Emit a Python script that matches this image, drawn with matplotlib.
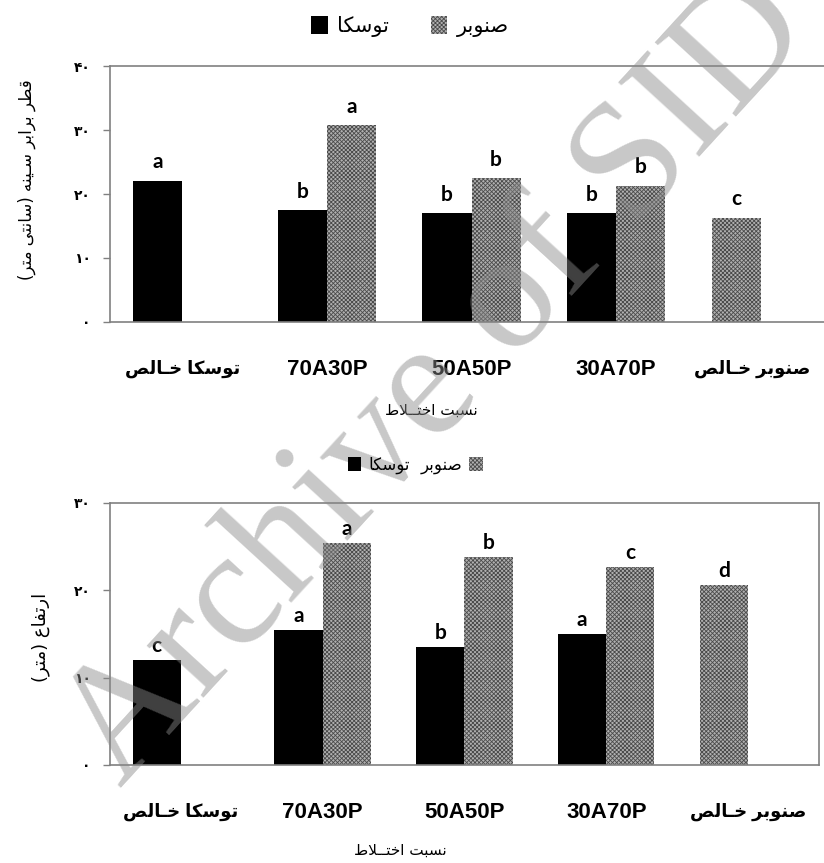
import numpy as np
import matplotlib.pyplot as plt
from matplotlib.patches import Patch
from matplotlib.transforms import ScaledTranslation

# presentation forms for each Persian letter: isolated, final, initial, medial
FORMS = {
    'ا': '\uFE8D\uFE8E',
    'ر': '\uFEAD\uFEAE',
    'و': '\uFEED\uFEEE',
    'ب': '\uFE8F\uFE90\uFE91\uFE92',
    'ت': '\uFE95\uFE96\uFE97\uFE98',
    'خ': '\uFEA5\uFEA6\uFEA7\uFEA8',
    'س': '\uFEB1\uFEB2\uFEB3\uFEB4',
    'ص': '\uFEB9\uFEBA\uFEBB\uFEBC',
    'ط': '\uFEC1\uFEC2\uFEC3\uFEC4',
    'ع': '\uFEC9\uFECA\uFECB\uFECC',
    'ف': '\uFED1\uFED2\uFED3\uFED4',
    'ق': '\uFED5\uFED6\uFED7\uFED8',
    'ل': '\uFEDD\uFEDE\uFEDF\uFEE0',
    'م': '\uFEE1\uFEE2\uFEE3\uFEE4',
    'ن': '\uFEE5\uFEE6\uFEE7\uFEE8',
    'ه': '\uFEE9\uFEEA\uFEEB\uFEEC',
    'ک': '\uFB8E\uFB8F\uFB90\uFB91',
    'ی': '\uFBFC\uFBFD\uFBFE\uFBFF',
    'ـ': '\u0640' * 4,
}


def farsi(text):
    # join the letters and put them in visual (left to right) order
    out = []
    i = 0
    while i < len(text):
        ch = text[i]
        if ch not in FORMS:
            out.append(ch)
            i += 1
            continue
        prev = text[i - 1] if i > 0 else ''
        joins_prev = prev in FORMS and len(FORMS[prev]) == 4
        if ch == 'ل' and i + 1 < len(text) and text[i + 1] == 'ا':
            out.append('\uFEFC' if joins_prev else '\uFEFB')
            i += 2
            continue
        nxt = text[i + 1] if i + 1 < len(text) else ''
        forms = FORMS[ch]
        joins_next = len(forms) == 4 and nxt in FORMS
        if joins_prev and joins_next:
            out.append(forms[3])
        elif joins_prev:
            out.append(forms[1])
        elif joins_next:
            out.append(forms[2])
        else:
            out.append(forms[0])
        i += 1
    return ''.join(reversed(out)).translate(str.maketrans('()', ')('))


mixes = ['توسکا خـالص', '70A30P', '50A50P', '30A70P', 'صنوبر خـالص']
alder_name = 'توسکا'
poplar_name = 'صنوبر'

# diameter at breast height (cm)
alder_dbh = [22.1, 17.5, 17.0, 17.0, np.nan]
poplar_dbh = [np.nan, 30.8, 22.5, 21.3, 16.3]
alder_dbh_grp = ['a', 'b', 'b', 'b', '']
poplar_dbh_grp = ['', 'a', 'b', 'b', 'c']

# total height (m)
alder_height = [12.0, 15.4, 13.5, 15.0, np.nan]
poplar_height = [np.nan, 25.4, 23.8, 22.7, 20.6]
alder_height_grp = ['c', 'a', 'b', 'a', '']
poplar_height_grp = ['', 'a', 'b', 'c', 'd']

fa_digits = str.maketrans('0123456789', '۰۱۲۳۴۵۶۷۸۹')

plt.rcParams['hatch.linewidth'] = 0.6
GRAY = '#808080'
POPLAR = dict(facecolor='#b0b0b0', edgecolor='#4a4a4a', hatch='xxxxxxxx', linewidth=0)
LATIN_FA = ['Liberation Sans', 'DejaVu Sans']

fig = plt.figure(figsize=(8.24, 8.63), dpi=100)
ax1 = fig.add_axes([0.1335, 0.6269, 0.8775, 0.2966])
ax2 = fig.add_axes([0.1335, 0.1136, 0.8604, 0.3036])


def draw(ax, alder, poplar, alder_grp, poplar_grp, ymax, ylabel, lab_off, ysize):
    x = np.arange(len(mixes))
    w = 0.34
    alder = np.array(alder)
    poplar = np.array(poplar)
    has_a = ~np.isnan(alder)
    has_p = ~np.isnan(poplar)
    xa = x - w / 2
    # pure poplar sits in the first slot of its group
    xp = np.where(has_a, x + w / 2, x - w / 2)
    ax.bar(xa[has_a], alder[has_a], w, color='black', linewidth=0)
    ax.bar(xp[has_p], poplar[has_p], w, **POPLAR)
    for xs, vals, grps in ((xa, alder, alder_grp), (xp, poplar, poplar_grp)):
        for xi, v, g in zip(xs, vals, grps):
            if np.isnan(v):
                continue
            ax.annotate(g, (xi, v), xytext=(0, lab_off), textcoords='offset points',
                        ha='center', va='bottom', fontsize=15, fontweight='bold',
                        family='Lato')
    ax.set_xlim(-0.5, len(mixes) - 0.5)
    ax.set_ylim(0, ymax)
    ticks = np.arange(0, ymax + 1, 10)
    ax.set_yticks(ticks)
    ax.set_yticklabels([str(t).translate(fa_digits) for t in ticks],
                       fontsize=10, fontweight='bold', family='DejaVu Sans')
    ax.set_xticks(x)
    labels = ax.set_xticklabels([farsi(m) if m[0] in FORMS else m for m in mixes],
                                fontweight='bold', family=LATIN_FA)
    for m, lab in zip(mixes, labels):
        lab.set_fontsize(13 if m[0] in FORMS else 16)
    ax.tick_params(axis='x', length=0, pad=27)
    ax.tick_params(axis='y', length=5, width=1, color=GRAY, pad=9)
    for s in ax.spines.values():
        s.set_color(GRAY)
        s.set_linewidth(1.2)
    ax.set_ylabel(farsi(ylabel), fontsize=ysize, family='DejaVu Sans')
    ax.set_xlabel(farsi('نسبت اختــلاط'), fontsize=11, family='DejaVu Sans')
    return labels


draw(ax1, alder_dbh, poplar_dbh, alder_dbh_grp, poplar_dbh_grp, 40,
     'قطر برابر سـینه (سانتی متر)', 6, 12)
draw(ax2, alder_height, poplar_height, alder_height_grp, poplar_height_grp, 30,
     'ارتفاع (متر)', 3, 13)
ax1.spines['right'].set_visible(False)

# the top panel runs past the page edge, pull its last label back inside
last = ax1.get_xticklabels()[-1]
last.set_transform(last.get_transform() + ScaledTranslation(-0.09, 0, fig.dpi_scale_trans))

ax1.yaxis.set_label_coords(-0.1025, 0.555)
ax1.xaxis.set_label_coords(0.445, -0.316)
ax2.yaxis.set_label_coords(-0.085, 0.485)
ax2.xaxis.set_label_coords(0.41, -0.298)

h_alder = Patch(facecolor='black', label=farsi(alder_name))
h_poplar = Patch(label=farsi(poplar_name), **POPLAR)
leg_kw = dict(frameon=False, handlelength=0.8, handleheight=0.9, handletextpad=0.45,
              borderpad=0, borderaxespad=0)
fig.legend(handles=[h_alder, h_poplar], ncol=2, columnspacing=2.0,
           loc='center', bbox_to_anchor=(0.4976, 0.969),
           prop={'family': 'DejaVu Sans', 'size': 15}, **leg_kw)
small = {'family': 'DejaVu Sans', 'size': 12}
fig.legend(handles=[h_alder], loc='center right', bbox_to_anchor=(0.498, 0.461),
           prop=small, **leg_kw)
fig.legend(handles=[h_poplar], markerfirst=False, loc='center left',
           bbox_to_anchor=(0.51, 0.461), prop=small, **leg_kw)

fig.text(0.532, 0.557, 'Archive of SID', rotation=47.5, ha='center', va='center',
         fontsize=120, family='Liberation Serif', color='#8a8a8a', alpha=0.47)

fig.savefig('out.png', dpi=100)
